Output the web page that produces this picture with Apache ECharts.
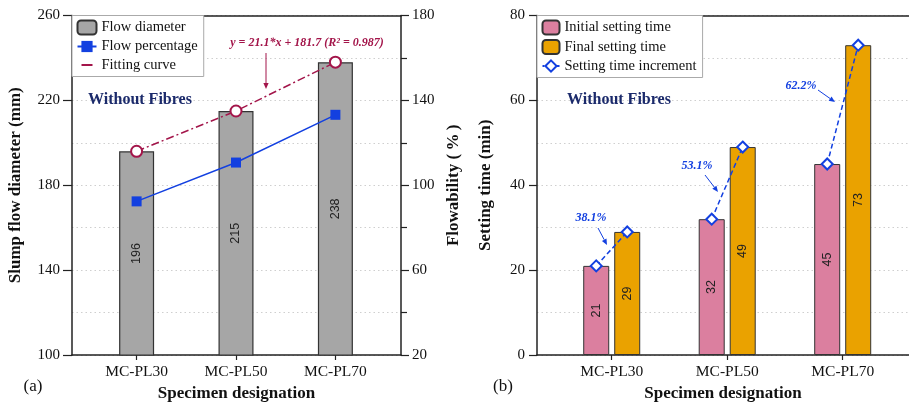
<!DOCTYPE html>
<html><head><meta charset="utf-8">
<script src="https://cdn.jsdelivr.net/npm/echarts@6/dist/echarts.min.js"></script>
<style>html,body{margin:0;padding:0;background:#fff}#c{width:909px;height:408px}</style>
</head><body><div id="c"></div>
<script>
// ---- data ----
const categories = ['MC-PL30', 'MC-PL50', 'MC-PL70'];
const flowDiameter = [196, 215, 238];          // mm (left axis, panel a)
const flowPercentage = [92.4, 110.7, 133.2];   // % (right axis, panel a)
const fittingCurve = [196, 215, 238];          // mm (fit points, panel a)
const initialSetting = [21, 32, 45];           // min (panel b)
const finalSetting = [29, 49, 73];             // min (panel b)
const incrementLabels = ['38.1%', '53.1%', '62.2%'];
const fitEquation = 'y = 21.1*x + 181.7 (R\u00B2 = 0.987)';

// ---- layout constants ----
const SERIF = "'Liberation Serif','Times New Roman',serif";
const pos = categories.map((_, i) => i + 1);
const XA_MIN = 0.35, XA_MAX = 3.66;
const XB_MIN = 0.353, XB_MAX = 3.574;
const GB_LEFT = 537, W = 909;
const BAR_W_B = 26, BAR_GAP_B = 5;
const unitB = (W - GB_LEFT) / (XB_MAX - XB_MIN);
const offB = (BAR_W_B + BAR_GAP_B) / 2 / unitB;

const BLUE = '#1340e0', MAROON = '#a3154a', NAVY = '#1b2a6b', AX = '#222';

function xAxisBottom(grid, min, max) {
  return {
    type: 'value', gridIndex: grid, min, max, position: 'bottom',
    axisLine: { show: true, onZero: false, lineStyle: { color: AX, width: 1.5 } },
    axisTick: { show: true, customValues: pos, length: 5, lineStyle: { color: AX, width: 1.2 } },
    axisLabel: { show: true, customValues: pos, formatter: v => categories[Math.round(v) - 1] || '',
      fontFamily: SERIF, fontSize: 15.5, color: '#111', margin: 9 },
    splitLine: { show: false },
    name: 'Specimen designation', nameLocation: 'middle', nameGap: 29,
    nameTextStyle: { fontFamily: SERIF, fontWeight: 'bold', fontSize: 17, color: '#111' }
  };
}
function xAxisTop(grid, min, max) {
  return {
    type: 'value', gridIndex: grid, min, max, position: 'top',
    axisLine: { show: true, onZero: false, lineStyle: { color: AX, width: 1.5 } },
    axisTick: { show: false }, axisLabel: { show: false }, splitLine: { show: false }
  };
}
function yAxisCfg(o) {
  return Object.assign({
    type: 'value',
    axisLine: { show: true, onZero: false, lineStyle: { color: AX, width: 1.5 } },
    axisTick: { show: true, length: 8, lineStyle: { color: AX, width: 1.2 } },
    axisLabel: { fontFamily: SERIF, fontSize: 15, color: '#111', margin: 12 },
    nameLocation: 'middle', nameRotate: 90,
    nameTextStyle: { fontFamily: SERIF, fontWeight: 'bold', fontSize: 17, color: '#111' }
  }, o);
}
const gridLine = { show: true, lineStyle: { color: '#cfcfcf', type: [1.5, 3], width: 1 } };

const inc = pos.map((p, i) => [[p - offB, initialSetting[i]], [p + offB, finalSetting[i]]]);

function arrow(x1, y1, x2, y2, color) {
  const a = Math.atan2(y2 - y1, x2 - x1), L = 6, Wd = 2.6;
  const bx = x2 - L * Math.cos(a), by = y2 - L * Math.sin(a);
  const nx = -Math.sin(a) * Wd, ny = Math.cos(a) * Wd;
  return [
    { type: 'line', shape: { x1, y1, x2: bx, y2: by }, style: { stroke: color, lineWidth: 1 }, z: 20 },
    { type: 'polygon', shape: { points: [[x2, y2], [bx + nx, by + ny], [bx - nx, by - ny]] }, style: { fill: color }, z: 20 }
  ];
}
function txt(x, y, text, font, color, align) {
  return { type: 'text', x, y, z: 20, style: { text, font, fill: color, align: align || 'center', verticalAlign: 'middle' } };
}

const barLabel = { show: true, position: 'inside', rotate: 90, formatter: p => p.value[1],
  fontFamily: "'Liberation Sans',Arial,sans-serif", fontSize: 12.5, color: '#222' };

const option = {
  animation: false,
  backgroundColor: '#fff',
  grid: [
    { left: 72, right: W - 401, top: 15.5, bottom: 53 },
    { left: GB_LEFT, right: 0, top: 15.5, bottom: 53 }
  ],
  xAxis: [xAxisBottom(0, XA_MIN, XA_MAX), xAxisTop(0, XA_MIN, XA_MAX),
          xAxisBottom(1, XB_MIN, XB_MAX), xAxisTop(1, XB_MIN, XB_MAX)],
  yAxis: [
    yAxisCfg({ gridIndex: 0, position: 'left', min: 100, max: 260, interval: 40,
      axisTick: { show: true, length: 9, lineStyle: { color: AX, width: 1.2 } },
      splitLine: gridLine, minorTick: { show: false, splitNumber: 2 }, minorSplitLine: gridLine,
      name: 'Slump flow diameter (mm)', nameGap: 48 }),
    yAxisCfg({ gridIndex: 0, position: 'right', min: 20, max: 180, interval: 40,
      axisLabel: { fontFamily: SERIF, fontSize: 15, color: '#111', margin: 11 },
      minorTick: { show: true, splitNumber: 2, length: 6, lineStyle: { color: AX, width: 1.2 } },
      splitLine: { show: false }, name: 'Flowability (\u2009%\u2009)', nameGap: 44 }),
    yAxisCfg({ gridIndex: 1, position: 'left', min: 0, max: 80, interval: 20,
      splitLine: gridLine, minorTick: { show: false, splitNumber: 2 }, minorSplitLine: gridLine,
      name: 'Setting time (min)', nameGap: 43 })
  ],
  legend: [
    { orient: 'vertical', left: 72, top: 15.5, itemWidth: 19, itemHeight: 14, itemGap: 3.5,
      padding: [4, 6, 4, 4.5], backgroundColor: '#fff', borderColor: '#aaa', borderWidth: 1,
      selectedMode: false, textStyle: { fontFamily: SERIF, fontSize: 14.5, color: '#111' },
      data: [{ name: 'Flow diameter', icon: 'roundRect' }, { name: 'Flow percentage' },
             { name: 'Fitting curve', itemStyle: { opacity: 0 }, lineStyle: { type: [11, 20], dashOffset: -4, width: 2 } }] },
    { orient: 'vertical', left: GB_LEFT, top: 15.5, itemWidth: 17, itemHeight: 14, itemGap: 3.5,
      padding: [4, 6, 4, 4.5], backgroundColor: '#fff', borderColor: '#aaa', borderWidth: 1,
      selectedMode: false, textStyle: { fontFamily: SERIF, fontSize: 14.5, color: '#111' },
      data: [{ name: 'Initial setting time', icon: 'roundRect' }, { name: 'Final setting time', icon: 'roundRect' },
             { name: 'Setting time increment', lineStyle: { type: [3, 2] } }] }
  ],
  series: [
    { type: 'bar', name: 'Flow diameter', xAxisIndex: 0, yAxisIndex: 0, barWidth: 35,
      data: pos.map((p, i) => [p, flowDiameter[i]]),
      itemStyle: { color: '#a6a6a6', borderColor: '#333', borderWidth: 1.2 }, label: barLabel },
    { type: 'line', name: 'Flow percentage', xAxisIndex: 0, yAxisIndex: 1, z: 5,
      data: pos.map((p, i) => [p, flowPercentage[i]]),
      symbol: 'rect', symbolSize: 10, color: BLUE, lineStyle: { color: BLUE, width: 1.5 },
      itemStyle: { color: BLUE } },
    { type: 'line', name: 'Fitting curve', xAxisIndex: 0, yAxisIndex: 0, z: 5,
      data: pos.map((p, i) => [p, fittingCurve[i]]),
      symbol: 'emptyCircle', symbolSize: 11, color: MAROON,
      lineStyle: { color: MAROON, width: 1.5, type: [8, 3, 2, 3] },
      itemStyle: { color: MAROON, borderWidth: 1.5 } },
    { type: 'bar', name: 'Initial setting time', xAxisIndex: 2, yAxisIndex: 2, barWidth: BAR_W_B,
      barGap: (BAR_GAP_B / BAR_W_B * 100) + '%',
      data: pos.map((p, i) => [p, initialSetting[i]]),
      itemStyle: { color: '#db7f9f', borderColor: '#333', borderWidth: 1 }, label: barLabel },
    { type: 'bar', name: 'Final setting time', xAxisIndex: 2, yAxisIndex: 2, barWidth: BAR_W_B,
      barGap: (BAR_GAP_B / BAR_W_B * 100) + '%',
      data: pos.map((p, i) => [p, finalSetting[i]]),
      itemStyle: { color: '#eaa200', borderColor: '#333', borderWidth: 1 }, label: barLabel }
  ].concat(inc.map(seg => ({
      type: 'line', name: 'Setting time increment', xAxisIndex: 2, yAxisIndex: 2, z: 5, data: seg,
      symbol: 'emptyDiamond', symbolSize: 11, color: BLUE,
      lineStyle: { color: BLUE, width: 1.5, type: [5, 3] },
      itemStyle: { color: BLUE, borderWidth: 1.5 } }))),
  graphic: [].concat(
    [txt(88, 100, 'Without Fibres', "bold 16px " + SERIF, NAVY, 'left'),
     txt(567, 100, 'Without Fibres', "bold 16px " + SERIF, NAVY, 'left'),
     txt(307, 43, fitEquation, "italic bold 12px " + SERIF, MAROON),
     txt(591, 218, incrementLabels[0], "italic bold 12px " + SERIF, BLUE),
     txt(697, 166, incrementLabels[1], "italic bold 12px " + SERIF, BLUE),
     txt(801, 86, incrementLabels[2], "italic bold 12px " + SERIF, BLUE),
     txt(33, 387, '(a)', "17px " + SERIF, '#111'),
     txt(503, 387, '(b)', "17px " + SERIF, '#111')],
    arrow(266, 53, 266, 89, MAROON),
    arrow(598, 228, 607, 245, BLUE),
    arrow(705, 175, 718, 192, BLUE),
    arrow(818, 90, 835, 102, BLUE)
  )
};
const chart = echarts.init(document.getElementById('c'));
chart.setOption(option);
</script></body></html>
